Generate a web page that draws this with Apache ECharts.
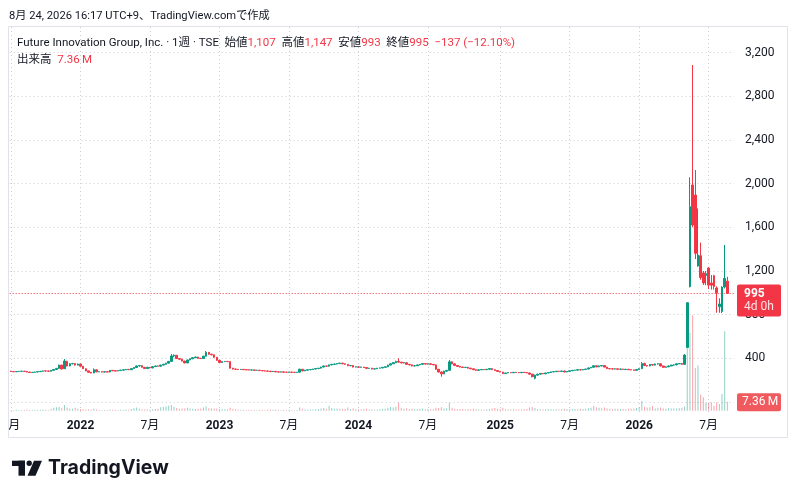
<!DOCTYPE html>
<html><head><meta charset="utf-8">
<script src="https://cdn.jsdelivr.net/npm/echarts@6/dist/echarts.min.js"></script>
<style>html,body{margin:0;padding:0;background:#fff}#c{width:798px;height:499px}</style>
</head><body><div id="c"></div><script>
// ---- data (weekly bars, first bar = week of 2021-07-05) ----
const startWeek = [2021, 7, 5];
const extraWeeks = 2; // empty space to the right of the last bar
const tickLabels = [['2021-07','7月'],['2022-01','2022'],['2022-07','7月'],['2023-01','2023'],['2023-07','7月'],['2024-01','2024'],['2024-07','7月'],['2025-01','2025'],['2025-07','7月'],['2026-01','2026'],['2026-07','7月']];
const priceTicks = [0, 3200, 400];
const opens = [
283,279,277,279,281,282,280,274,270,272,
275,278,281,285,284,282,290,298,308,338,
305,372,330,350,352,338,348,328,305,285,
272,266,295,276,278,274,277,275,290,286,
284,288,292,295,299,296,306,316,330,333,
318,306,318,312,324,330,328,338,346,356,
372,422,428,398,392,375,358,385,396,406,
412,400,398,420,455,438,432,410,382,362,
370,372,370,310,302,300,298,299,296,295,
293,294,290,291,288,286,284,282,278,281,
276,274,276,273,272,274,272,271,273,300,
285,292,295,298,302,306,310,320,330,328,
340,345,348,352,356,350,345,332,334,320,
322,318,320,316,308,310,302,304,310,312,
318,322,338,350,360,372,365,358,360,345,
340,330,332,340,345,352,347,350,345,340,
300,275,258,282,290,368,350,335,326,320,
316,318,310,304,296,290,295,298,296,300,
306,296,288,280,274,260,266,270,268,272,
270,268,272,270,266,255,218,246,255,262,
258,266,270,276,278,282,280,284,275,280,
286,290,292,296,294,298,302,312,318,332,
322,330,334,320,306,304,302,304,300,302,
298,300,296,294,290,298,305,352,334,330,
344,338,348,350,330,318,322,330,338,340,
350,352,345,500,1056,1988,1896,1246,1340,1182,
1160,1227,1090,1157,1045,873,830,1053,1107];
const closes = [
279,277,279,281,282,280,274,270,272,275,
278,281,285,284,282,290,298,308,338,302,
376,330,350,352,338,348,328,305,285,272,
266,295,276,278,274,277,275,290,286,284,
288,292,295,299,296,306,316,330,333,318,
306,318,312,324,330,328,338,346,356,372,
422,428,398,392,375,358,385,396,406,412,
400,398,420,455,438,432,410,382,362,370,
372,370,310,302,300,298,299,296,295,293,
294,290,291,288,286,284,282,278,281,276,
274,276,273,272,274,272,271,273,300,285,
292,295,298,302,306,310,320,330,328,340,
345,348,352,356,350,345,332,334,320,322,
318,320,316,308,310,302,304,310,312,318,
322,338,350,360,372,365,358,360,345,340,
330,332,340,345,352,347,350,345,340,300,
275,258,282,290,368,350,335,326,320,316,
318,310,304,296,290,295,298,296,300,306,
296,288,280,274,260,266,270,268,272,270,
268,272,270,266,255,232,246,255,262,258,
266,270,276,278,282,280,284,275,280,286,
290,292,296,294,298,302,312,318,332,322,
330,334,320,306,304,302,304,300,302,298,
300,296,294,290,298,305,352,334,330,344,
338,348,350,330,318,322,330,338,340,350,
352,345,430,909,1789,1621,1362,1346,1140,1090,
1175,1071,1070,1059,1000,898,1053,1132,995];
const lows = [
276,274,275,277,279,277,271,266,268,270,
273,276,279,281,279,280,288,296,305,298,
303,326,327,345,334,335,325,302,282,268,
262,264,272,274,271,272,272,273,283,281,
282,286,290,293,293,294,304,314,325,315,
303,304,309,310,321,325,326,335,343,354,
370,410,394,386,372,354,356,382,393,402,
397,394,396,418,434,428,406,378,358,360,
367,366,306,298,296,295,295,293,292,290,
290,287,287,285,283,281,279,274,275,273,
271,272,270,269,270,269,268,269,271,282,
283,290,293,296,300,304,308,318,325,326,
337,342,345,349,347,342,329,329,317,318,
315,316,313,305,305,299,300,302,308,310,
316,320,336,348,357,360,354,354,341,336,
327,327,330,337,343,344,344,342,337,296,
270,232,255,278,288,345,332,322,316,312,
312,307,301,292,287,288,292,293,294,298,
293,285,277,271,256,257,264,265,266,267,
265,266,267,263,250,226,208,243,252,255,
256,264,268,273,276,277,278,272,272,278,
284,288,290,291,292,296,300,310,316,318,
320,327,317,303,300,299,300,297,298,295,
296,293,290,287,288,295,303,330,325,328,
334,335,344,326,314,314,320,327,334,337,
347,342,340,495,1050,1600,1310,1240,1120,1072,
1070,1035,1030,1030,818,818,815,1040,993];
const highs = [
285,281,281,283,285,284,281,276,275,277,
280,283,287,288,286,292,301,312,342,340,
394,378,355,358,355,352,350,330,307,287,
275,308,297,281,280,279,279,293,293,289,
290,294,297,302,301,308,319,334,338,335,
320,322,321,326,333,333,341,349,359,376,
440,436,430,402,396,378,388,399,409,416,
414,404,424,467,458,442,435,412,384,373,
375,374,372,312,304,302,301,301,298,297,
296,296,294,293,290,289,287,284,283,283,
278,278,278,275,276,276,274,275,305,302,
294,297,300,304,308,312,323,333,333,343,
348,351,355,360,359,353,347,337,336,325,
324,323,322,318,312,312,306,312,315,320,
325,341,353,366,378,400,368,364,362,347,
342,335,343,348,355,354,353,353,348,342,
302,278,287,293,385,372,353,338,329,323,
321,320,312,306,298,297,300,300,302,309,
308,298,290,282,276,268,272,272,274,274,
272,274,274,272,268,257,250,258,264,265,
268,272,278,281,284,285,286,286,282,288,
292,295,298,299,300,304,315,320,336,334,
334,337,336,322,308,306,306,306,305,304,
302,302,298,296,300,308,366,360,338,347,
348,352,355,352,333,325,334,341,344,353,
356,355,440,915,2058,3087,2125,1774,1460,1200,
1200,1235,1163,1165,1060,950,1060,1438,1147];
const volumesM = [
0.6,0.5,0.7,0.6,0.5,0.6,0.9,0.8,0.6,0.7,
0.7,0.8,1.0,0.7,0.6,1.5,2.4,2.8,3.2,2.0,
4.6,2.6,1.8,1.5,2.4,1.6,1.4,1.2,1.0,0.9,
0.8,1.6,0.9,0.6,0.5,0.6,0.5,0.9,0.8,0.7,
0.6,0.8,0.7,0.9,0.8,1.4,2.0,2.6,1.5,1.2,
1.0,1.1,0.9,1.2,1.4,1.5,2.8,3.0,3.5,4.0,
4.6,3.2,2.2,1.6,1.8,1.7,2.5,1.9,1.6,1.4,
1.5,1.8,2.6,3.4,2.0,1.7,1.9,1.6,1.3,1.1,
1.2,1.0,2.4,1.4,0.9,0.8,0.7,0.8,0.6,0.7,
0.6,0.7,0.6,0.8,0.7,0.6,0.9,1.0,0.8,0.9,
0.7,0.6,0.8,0.6,0.7,0.6,0.5,0.6,2.6,1.5,
0.9,0.8,0.9,1.0,1.1,1.3,1.8,2.2,1.6,4.0,
2.2,1.6,1.8,1.5,1.6,1.4,2.6,1.3,2.0,1.1,
1.2,1.0,1.3,1.5,0.9,1.2,0.8,1.0,1.1,1.4,
1.6,2.4,3.0,2.6,3.2,6.5,2.4,1.6,2.0,1.4,
1.5,1.2,1.3,1.6,1.8,1.2,1.3,1.1,1.2,2.4,
2.2,2.8,1.8,2.0,6.5,2.4,1.6,1.2,1.4,1.3,
1.0,1.3,1.2,1.5,1.2,0.9,1.0,0.8,1.1,1.3,
1.8,2.2,1.6,1.4,2.4,1.2,1.0,0.9,1.1,1.0,
0.9,1.0,1.2,1.4,2.6,3.0,2.2,1.4,1.2,1.0,
1.1,1.3,1.2,1.0,1.1,1.0,1.2,1.6,1.4,1.2,
1.3,1.4,1.2,1.5,1.3,1.6,2.0,2.4,3.8,2.8,
2.4,2.0,2.6,1.8,1.6,1.4,1.6,1.5,1.3,1.4,
1.2,1.5,1.6,1.8,2.2,2.6,8.0,3.3,2.6,2.8,
3.8,1.8,2.4,2.6,1.9,1.6,2.1,1.7,1.9,1.8,
2.0,2.4,3.5,80,64,78,35,37,13,11,
6.5,6.5,6.9,4.0,6.9,5.5,13.6,65,7.36];
const volumeAxisMaxM = 90.5;
const headerText = '8月 24, 2026 16:17 UTC+9、TradingView.comで作成';
const symbolTitle = 'Future Innovation Group, Inc. · 1週 · TSE';
const countdown = '4d 0h';

// ---- styling ----
const FONT = 'Roboto, "Noto Sans CJK JP", sans-serif';
const UP = '#089981', DN = '#F23645';
const UPV = 'rgba(8,153,129,0.45)', DNV = 'rgba(242,54,69,0.45)';
const TXT = '#131722';
const GRIDC = '#C9CCD3';
const HF = '11.2px ' + FONT;   // header font
const LF = '11.5px ' + FONT;   // legend font

const n = closes.length;
const categories = [];
const t0 = Date.UTC(startWeek[0], startWeek[1] - 1, startWeek[2]);
for (let i = 0; i < n + extraWeeks; i++) categories.push(new Date(t0 + i * 7 * 86400000).toISOString().slice(0, 10));
const labelOf = {};
tickLabels.forEach(([ym, txt]) => { const c = categories.find(d => d.startsWith(ym)); if (c) labelOf[c] = txt; });
const isTick = (idx, val) => labelOf[val] !== undefined;

const candleData = closes.map((c, i) => [opens[i], c, lows[i], highs[i]]);
const volData = volumesM.map((v, i) => ({ value: v, itemStyle: { color: closes[i] >= opens[i] ? UPV : DNV } }));

const fmt = v => Math.round(v).toLocaleString('en-US');
const lastC = closes[n - 1], prevC = closes[n - 2];
const chg = lastC - prevC;
const pct = (chg / prevC * 100).toFixed(2);
const minus = s => String(s).replace('-', '\u2212');

const BAND = 2.673;
const GL = 9.66, GW = (n + extraWeeks) * BAND;

const chart = echarts.init(document.getElementById('c'), null, { renderer: 'canvas' });
const option = {
  animation: false,
  backgroundColor: '#ffffff',
  textStyle: { fontFamily: FONT },
  grid: [
    { left: GL, width: GW, top: 27, height: 387, containLabel: false, outerBoundsMode: 'none' },
    { left: GL, width: GW, top: 52.7, height: 349.3, containLabel: false, outerBoundsMode: 'none' },
    { left: GL, width: GW, top: 300, height: 110.7, containLabel: false, outerBoundsMode: 'none' }
  ],
  xAxis: [
    { type: 'category', gridIndex: 0, data: categories, boundaryGap: true,
      axisLine: { show: false }, axisTick: { show: false },
      axisLabel: { interval: isTick, margin: 6, fontSize: 12, color: TXT, fontFamily: FONT,
        formatter: v => /^\d{4}$/.test(labelOf[v]) ? '{y|' + labelOf[v] + '}' : '{m|' + (labelOf[v] || '') + '}',
        rich: { y: { fontWeight: 'bold', fontSize: 12, color: TXT, fontFamily: FONT }, m: { fontSize: 12, color: TXT, fontFamily: FONT } } },
      splitLine: { show: true, interval: isTick, alignWithLabel: true, lineStyle: { color: GRIDC, type: [1, 3], width: 1 } } },
    { type: 'category', gridIndex: 1, data: categories, boundaryGap: true, show: false },
    { type: 'category', gridIndex: 2, data: categories, boundaryGap: true, show: false }
  ],
  yAxis: [
    { type: 'value', gridIndex: 0, min: 0, max: 1, show: false },
    { type: 'value', gridIndex: 1, position: 'right', min: priceTicks[0], max: priceTicks[1], interval: priceTicks[2],
      axisLine: { show: false }, axisTick: { show: false },
      axisLabel: { margin: 11, fontSize: 12, color: TXT, fontFamily: FONT, align: 'left',
        formatter: v => v === 0 ? '' : fmt(v) },
      splitLine: { show: true, lineStyle: { color: GRIDC, type: [1, 3], width: 1 } } },
    { type: 'value', gridIndex: 2, min: 0, max: volumeAxisMaxM, show: false }
  ],
  series: [
    { type: 'bar', xAxisIndex: 2, yAxisIndex: 2, data: volData, barWidth: 1, z: 1 },
    { type: 'candlestick', xAxisIndex: 1, yAxisIndex: 1, data: candleData, barWidth: '78%', z: 3,
      itemStyle: { color: UP, color0: DN, borderColor: UP, borderColor0: DN, borderWidth: 1 },
      markLine: { symbol: ['none', 'none'], silent: true, animation: false,
        data: [{ yAxis: lastC }],
        lineStyle: { color: DN, type: [1, 2], width: 1 },
        label: { show: false } } }
  ]
};
chart.setOption(option);

// labels placed through the library's own scales
const py = chart.convertToPixel({ yAxisIndex: 1 }, lastC);
const vy = chart.convertToPixel({ yAxisIndex: 2 }, volumesM[n - 1]);
const BX = 737;
chart.setOption({
  graphic: [
    { type: 'rect', z: 50, shape: { x: 8.5, y: 26.5, width: 779, height: 411 }, style: { fill: 'none', stroke: '#E0E3EB', lineWidth: 1 } },
    { type: 'rect', z: 49, shape: { x: 0, y: 415, width: 8.5, height: 22 }, style: { fill: '#ffffff' } },
    { type: 'text', z: 60, x: 9, y: 16, style: { text: headerText, font: HF, fill: TXT, verticalAlign: 'middle' } },
    { type: 'text', z: 60, x: 17, y: 43, style: {
        text: '{t|' + symbolTitle + '}  {t|始値}{v|' + fmt(opens[n-1]) + '}  {t|高値}{v|' + fmt(highs[n-1]) + '}  {t|安値}{v|' + fmt(lows[n-1]) + '}  {t|終値}{v|' + fmt(lastC) + '}  {v|' + minus(chg) + ' (' + minus(pct) + '%)}',
        verticalAlign: 'middle', font: LF,
        rich: { t: { fill: TXT, font: LF }, v: { fill: DN, font: LF } } } },
    { type: 'text', z: 60, x: 17, y: 60, style: {
        text: '{t|出来高}  {v|' + volumesM[n-1].toFixed(2) + '\u2009M}', verticalAlign: 'middle', font: LF,
        rich: { t: { fill: TXT, font: LF }, v: { fill: DN, font: LF } } } },
    // last price label
    { type: 'rect', z: 70, shape: { x: BX, y: py - 9, width: 44, height: 32, r: 2 }, style: { fill: DN } },
    { type: 'text', z: 71, x: BX + 7, y: py + 0.5, style: { text: fmt(lastC), font: 'bold 12px ' + FONT, fill: '#ffffff', verticalAlign: 'middle' } },
    { type: 'text', z: 71, x: BX + 7, y: py + 14, style: { text: countdown, font: '12px ' + FONT, fill: '#FFE3E6', verticalAlign: 'middle' } },
    // last volume label
    { type: 'rect', z: 70, shape: { x: BX, y: vy - 8.5, width: 44, height: 18, r: 2 }, style: { fill: '#F05A5E' } },
    { type: 'text', z: 71, x: BX + 5, y: vy + 0.7, style: { text: volumesM[n-1].toFixed(2) + '\u2009M', font: '12px ' + FONT, fill: '#ffffff', verticalAlign: 'middle' } },
    // logo
    { type: 'group', z: 60, children: [
      { type: 'rect', shape: { x: 12, y: 460.7, width: 13, height: 5.3 }, style: { fill: TXT } },
      { type: 'rect', shape: { x: 18.5, y: 460.7, width: 6.5, height: 15 }, style: { fill: TXT } },
      { type: 'circle', shape: { cx: 29.2, cy: 463.3, r: 2.7 }, style: { fill: TXT } },
      { type: 'polygon', shape: { points: [[34, 460.7], [42, 460.7], [35.5, 475.7], [27.5, 475.7]] }, style: { fill: TXT } },
      { type: 'text', x: 48, y: 468.5, style: { text: 'TradingView', font: 'bold 19.5px Inter, ' + FONT, fill: TXT, verticalAlign: 'middle' } }
    ] }
  ]
});
</script></body></html>
